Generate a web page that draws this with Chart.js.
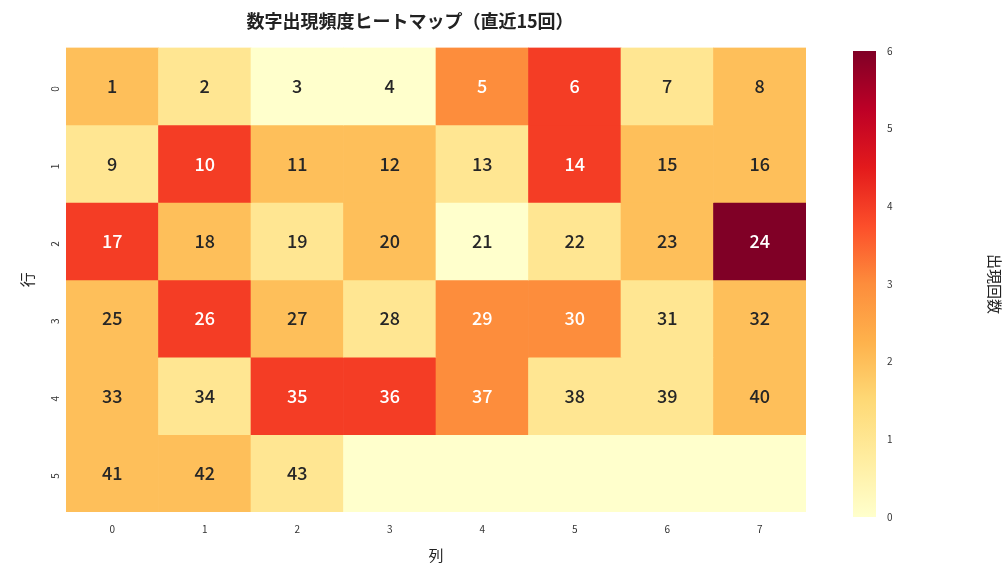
<!DOCTYPE html>
<html><head><meta charset="utf-8">
<script src="https://cdn.jsdelivr.net/npm/chart.js@4"></script>
<style>body{margin:0;background:#fff;width:1008px;height:576px;position:relative;overflow:hidden}
#c1{position:absolute;left:0;top:0}#c2{position:absolute;left:840px;top:0}</style></head><body>
<canvas id="c1" width="830" height="576"></canvas>
<canvas id="c2" width="168" height="576"></canvas>
<script>
const colLabels=['0','1','2','3','4','5','6','7'];
const rowLabels=['0','1','2','3','4','5'];
const counts=[
[2,1,0,0,3,4,1,2],
[1,4,2,2,1,4,2,2],
[4,2,1,2,0,1,2,6],
[2,4,2,1,3,3,1,2],
[2,1,4,4,3,1,1,2],
[2,2,1,0,0,0,0,0]];
const numbers=[
[1,2,3,4,5,6,7,8],[9,10,11,12,13,14,15,16],[17,18,19,20,21,22,23,24],
[25,26,27,28,29,30,31,32],[33,34,35,36,37,38,39,40],[41,42,43,null,null,null,null,null]];
const vmax=6;
const stops=['#ffffcc','#ffeda0','#fed976','#feb24c','#fd8d3c','#fc4e2a','#e31a1c','#bd0026','#800026'];
function hex(h){return [1,3,5].map(i=>parseInt(h.substr(i,2),16));}
function cmap(v){let t=v/vmax*(stops.length-1);let i=Math.min(Math.floor(t),stops.length-2);let f=t-i;
 const a=hex(stops[i]),b=hex(stops[i+1]);return 'rgb('+a.map((x,k)=>Math.round(x+(b[k]-x)*f)).join(',')+')';}
const F='"Noto Sans CJK JP","Noto Sans",sans-serif';
const datasets=rowLabels.map((r,ri)=>({data:colLabels.map(()=>[ri,ri+1]),
 backgroundColor:counts[ri].map(cmap),borderWidth:0,barPercentage:1,categoryPercentage:1,grouped:false}));
const textPlugin={id:'txt',afterDatasetsDraw(ch){const c=ch.ctx,xs=ch.scales.x,ys=ch.scales.y;
 c.save();c.font='500 18px '+F;c.textAlign='center';c.textBaseline='middle';
 numbers.forEach((row,ri)=>row.forEach((n,ci)=>{if(n==null)return;
  c.fillStyle=counts[ri][ci]>=3?'#ffffff':'#262626';
  c.fillText(String(n),xs.getPixelForValue(ci),ys.getPixelForValue(ri+0.5));}));c.restore();}};
new Chart(document.getElementById('c1'),{type:'bar',data:{labels:colLabels,datasets},
 plugins:[textPlugin],
 options:{responsive:false,animation:false,layout:{padding:{left:14,right:24,top:6,bottom:8}},
 plugins:{legend:{display:false},tooltip:{enabled:false},
  title:{display:true,text:'数字出現頻度ヒートマップ（直近15回）',font:{family:F,size:18,weight:'bold'},color:'#222',padding:{top:4,bottom:16}}},
 scales:{x:{grid:{display:false},border:{display:false},ticks:{font:{family:F,size:10},color:'#333'},
   title:{display:true,text:'列',font:{family:F,size:15},color:'#222',padding:{top:8}}},
  y:{min:0,max:6,reverse:true,grid:{display:false},border:{display:false},
   afterBuildTicks(s){s.ticks=rowLabels.map((l,i)=>({value:i+0.5}));},
   ticks:{font:{family:F,size:10},color:'#333',maxRotation:90,minRotation:90,callback:(v)=>rowLabels[Math.floor(v)]},
   title:{display:true,text:'行',font:{family:F,size:15},color:'#222'}}}}});
new Chart(document.getElementById('c2'),{type:'bar',data:{labels:['a'],datasets:[{data:[[0,6]],
 backgroundColor(ctx){const a=ctx.chart.chartArea;if(!a)return '#fff';const g=ctx.chart.ctx.createLinearGradient(0,a.bottom,0,a.top);
  stops.forEach((s,i)=>g.addColorStop(i/(stops.length-1),s));return g;},borderWidth:0,barPercentage:1,categoryPercentage:1}]},
 options:{responsive:false,animation:false,layout:{padding:{left:13,top:51,bottom:59}},
 plugins:{legend:{display:false},tooltip:{enabled:false}},
 scales:{x:{display:false},y:{position:'right',min:0,max:6,grid:{display:false},border:{display:false},
  afterFit(s){s.width=132;},
  ticks:{stepSize:1,font:{family:F,size:10},color:'#333'},
  title:{display:true,text:'出現回数',font:{family:F,size:15},color:'#222'}}}}});
</script></body></html>
